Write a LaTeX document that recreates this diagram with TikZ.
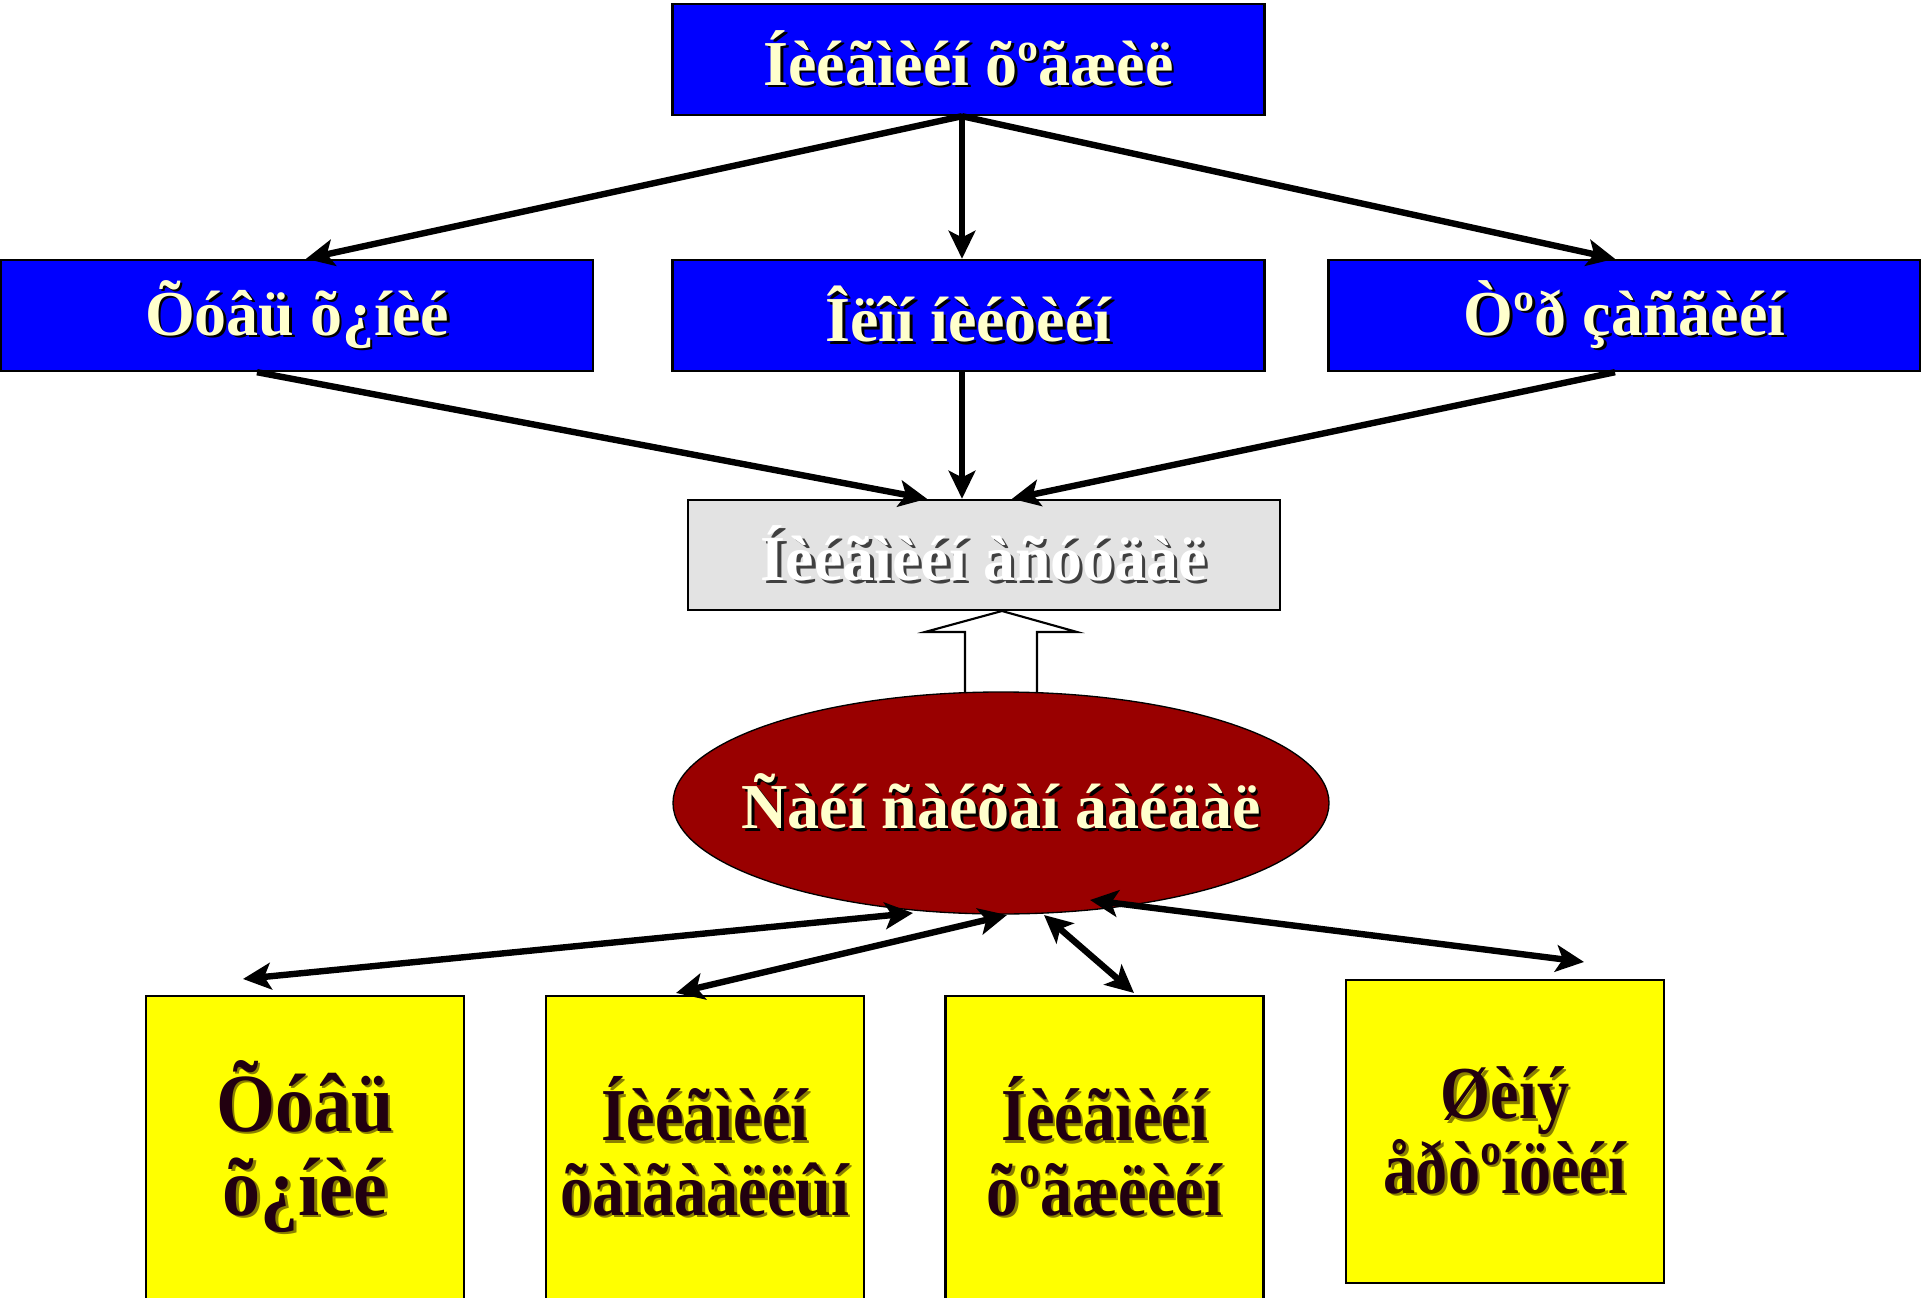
\documentclass[tikz,border=0pt]{standalone}
\usepackage{fontspec}
\setmainfont{Liberation Serif}
\usetikzlibrary{shapes.geometric,arrows.meta,calc}
\definecolor{bluebox}{HTML}{0000FF}
\definecolor{creamtxt}{HTML}{FFFFCC}
\definecolor{greybox}{HTML}{E3E3E3}
\definecolor{darkred}{HTML}{990000}
\definecolor{yelbox}{HTML}{FFFF00}
\definecolor{yeltxt}{HTML}{220010}
\definecolor{yelshadow}{HTML}{8A8000}
\definecolor{greyshadow}{HTML}{404040}
\newcommand\shd[3]{\leavevmode\rlap{\kern#1\raisebox{-#1}{\color{#2}#3}}#3}
\newcommand\bigfont{\bfseries\fontsize{48}{52}\selectfont}
\newcommand\yfont{\bfseries\fontsize{56}{56}\selectfont}
\newcommand\ybigfont{\bfseries\fontsize{62}{63}\selectfont}
\newcommand\yline[1]{\scalebox{0.86}[1]{\shd{2pt}{yelshadow}{#1}}}
\newcommand\ylinewide[1]{\scalebox{0.92}[1]{\shd{2pt}{yelshadow}{#1}}}
\tikzset{
  bluenode/.style={draw=black, line width=1.8pt, fill=bluebox, text=creamtxt,
    minimum width=444pt, minimum height=83.25pt, inner sep=0pt, font=\bigfont},
  greynode/.style={draw=black, line width=1.8pt, fill=greybox, text=white,
    minimum width=444pt, minimum height=82.5pt, inner sep=0pt, font=\bigfont},
  ellnode/.style={ellipse, draw=black, line width=1pt, fill=darkred, text=creamtxt,
    minimum width=492pt, minimum height=166.5pt, inner sep=0pt, font=\bigfont},
  yelnode/.style={draw=black, line width=1.8pt, fill=yelbox, text=yeltxt,
    minimum width=238.5pt, minimum height=227pt, inner sep=0pt, align=center, font=\yfont},
  tip/.tip={Stealth[length=21pt,width=20pt,inset=5pt]},
  conn/.style={line width=4.8pt, -tip},
  dconn/.style={line width=4.8pt, tip-tip},
  hollow/.style={draw=black, line width=1.6pt, fill=white, line join=miter}
}
\begin{document}
\begin{tikzpicture}[x=0.75pt,y=-0.75pt]
\useasboundingbox (0,0) rectangle (1921,1298);
\clip (0,0) rectangle (1921,1298);
\fill[white] (0,0) rectangle (1921,1298);

% nodes
\node[bluenode] (top) at (968.5,59.5) {\raisebox{-2pt}{\shd{2pt}{black}{Íèéãìèéí õºãæèë}}};
\node[bluenode] (l) at (297,315.5) {\raisebox{-3pt}{\shd{2pt}{black}{Õóâü õ¿íèé}}};
\node[bluenode] (m) at (968.5,315.5) {\raisebox{-3pt}{\shd{2pt}{black}{Îëîí íèéòèéí}}};
\node[bluenode] (r) at (1624.5,315.5) {\raisebox{-3pt}{\shd{2pt}{black}{Òºð çàñãèéí}}};
\node[greynode] (grey) at (984,555) {\shd{2.5pt}{greyshadow}{Íèéãìèéí àñóóäàë}};

% hollow arrow (drawn before ellipse so its foot is covered)
\path[hollow] (965,720) -- (965,632) -- (925,632) -- (1002,611) -- (1077,632) -- (1037,632) -- (1037,720);

\node[ellnode] (ell) at (1001,803) {\makebox[0pt]{\shd{2pt}{black}{Ñàéí ñàéõàí áàéäàë}}};

\node[yelnode, font=\ybigfont] (y1) at (305,1147.5) {\ylinewide{Õóâü}\\\ylinewide{õ¿íèé}};
\node[yelnode] (y2) at (705,1147.5) {\yline{Íèéãìèéí}\\\yline{õàìãààëëûí}};
\node[yelnode] (y3) at (1104.5,1147.5) {\yline{Íèéãìèéí}\\\yline{õºãæëèéí}};
\node[yelnode] (y4) at (1505,1131.5) {\yline{Øèíý}\\\yline{åðòºíöèéí}};

% connectors top -> row 2
\draw[conn] ($(top.south)+(-6.5,0)$) -- ($(l.north)+(9,0)$);
\draw[conn] ($(top.south)+(-6.5,0)$) -- ($(m.north)+(-6.5,0)$);
\draw[conn] ($(top.south)+(-6.5,0)$) -- ($(r.north)+(-9.5,0)$);
% row 2 -> grey
\draw[conn] ($(l.south)+(-40,0)$) -- ($(grey.north)+(-57,0)$);
\draw[conn] ($(m.south)+(-6.5,0)$) -- ($(grey.north)+(-22,0)$);
\draw[conn] ($(r.south)+(-9.5,0)$) -- ($(grey.north)+(28,0)$);
% ellipse <-> yellow boxes
\draw[dconn] ($(y1.north)+(-62,-16)$) -- ($(ell.center)+(-88,110)$);
\draw[dconn] ($(y2.north)+(-29,-2)$) -- ($(ell.center)+(6,112)$);
\draw[dconn] ($(ell.center)+(43,112)$) -- ($(y3.north)+(29.5,-2)$);
\draw[dconn] ($(ell.center)+(89,97)$) -- ($(y4.north)+(79,-17)$);
\end{tikzpicture}
\end{document}
